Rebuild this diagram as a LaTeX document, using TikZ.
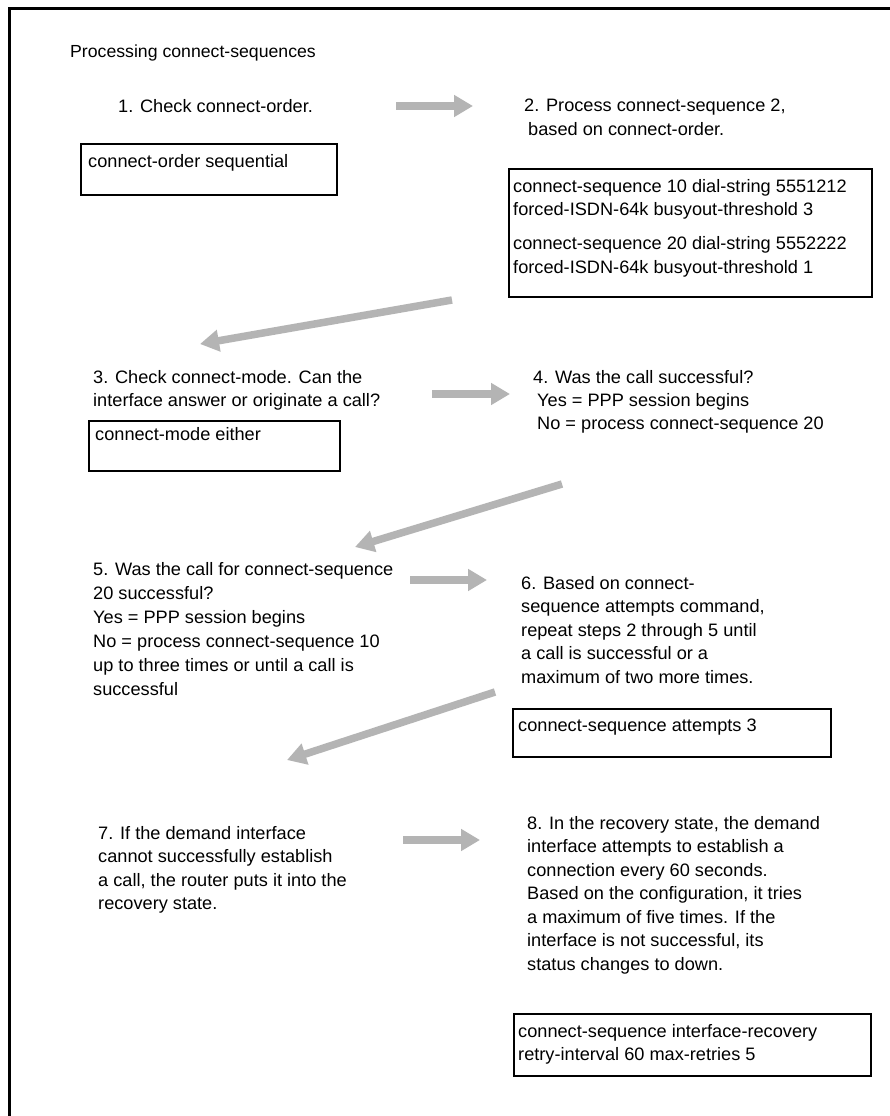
\documentclass[tikz,border=0pt]{standalone}
\usepackage{fontspec}
\setmainfont{Liberation Sans}[FakeStretch=1.01]
\usetikzlibrary{arrows.meta}
\definecolor{arrowgray}{RGB}{180,180,180}
\begin{document}
\begin{tikzpicture}[x=1pt,y=-1pt,
  txt/.style={anchor=north west, inner sep=0pt, align=left, font=\fontsize{18}{23.5}\selectfont},
  txtw/.style={txt, font=\fontsize{18}{24}\selectfont},
  cbox/.style={draw=black, line width=1.6pt, anchor=north west, inner sep=0pt},
  garrow/.style={draw=arrowgray, line width=7.5pt, -{Triangle[length=19pt,width=21pt]}},
  framel/.style={line width=3pt}]
\useasboundingbox (0,0) rectangle (890,1116);
\fill[white] (0,0) rectangle (890,1116);
% open frame
\coordinate (fTR) at (892,8.5);
\coordinate (fTL) at (9.5,8.5);
\coordinate (fBL) at (9.5,1118);
\draw[framel] (fTR) -- (fTL) -- (fBL);

% title and steps
\node[txt, font=\fontsize{17.5}{21}\selectfont] (title) at (70,45) {Processing connect-sequences};
\node[txt] (s1) at (118,99) {1. Check connect-order.};
\node[txt] (s2) at (524,99) {2. Process connect-sequence 2,\\\hspace*{4pt}based on connect-order.};
\node[txt] (s3) at (93,370) {3. Check connect-mode. Can the\\interface answer or originate a call?};
\node[txt, font=\fontsize{18}{23}\selectfont] (s4) at (533,370) {4. Was the call successful?\\\hspace*{4pt}Yes = PPP session begins\\\hspace*{4pt}No = process connect-sequence 20};
\node[txtw] (s5) at (93,562) {5. Was the call for connect-sequence\\20 successful?\\Yes = PPP session begins\\No = process connect-sequence 10\\up to three times or until a call is\\successful};
\node[txt] (s6) at (521,576) {6. Based on connect-\\sequence attempts command,\\repeat steps 2 through 5 until\\a call is successful or a\\maximum of two more times.};
\node[txt] (s7) at (98,826) {7. If the demand interface\\cannot successfully establish\\a call, the router puts it into the\\recovery state.};
\node[txt] (s8) at (527,816) {8. In the recovery state, the demand\\interface attempts to establish a\\connection every 60 seconds.\\Based on the configuration, it tries\\a maximum of five times. If the\\interface is not successful, its\\status changes to down.};

% command boxes
\node[cbox, minimum width=256pt, minimum height=51pt] (b1) at (80,143) {};
\node[txt] (b1t) at (88,154) {connect-order sequential};
\node[cbox, minimum width=363pt, minimum height=128pt] (b2) at (508,168) {};
\node[txt] (b2t) at (513,179) {connect-sequence 10 dial-string 5551212\\forced-ISDN-64k busyout-threshold 3\\[10.5pt]connect-sequence 20 dial-string 5552222\\forced-ISDN-64k busyout-threshold 1};
\node[cbox, minimum width=251pt, minimum height=50pt] (b3) at (88,420) {};
\node[txt] (b3t) at (95,427) {connect-mode either};
\node[cbox, minimum width=318pt, minimum height=48pt] (b6) at (512,708) {};
\node[txt] (b6t) at (518,719) {connect-sequence attempts 3};
\node[cbox, minimum width=357pt, minimum height=62pt] (b8) at (513,1013) {};
\node[txt] (b8t) at (518,1024) {connect-sequence interface-recovery\\retry-interval 60 max-retries 5};

% arrow end points
\coordinate (a1s) at (396,106); \coordinate (a1e) at (473,106);
\coordinate (a2s) at (452,300); \coordinate (a2e) at (200,344);
\coordinate (a3s) at (432,394); \coordinate (a3e) at (510,394);
\coordinate (a4s) at (562,484); \coordinate (a4e) at (355,547);
\coordinate (a5s) at (410,580); \coordinate (a5e) at (487,580);
\coordinate (a6s) at (495,692); \coordinate (a6e) at (287,760);
\coordinate (a7s) at (403,840); \coordinate (a7e) at (480,840);
\draw[garrow] (a1s) -- (a1e);
\draw[garrow] (a2s) -- (a2e);
\draw[garrow] (a3s) -- (a3e);
\draw[garrow] (a4s) -- (a4e);
\draw[garrow] (a5s) -- (a5e);
\draw[garrow] (a6s) -- (a6e);
\draw[garrow] (a7s) -- (a7e);
\end{tikzpicture}
\end{document}
